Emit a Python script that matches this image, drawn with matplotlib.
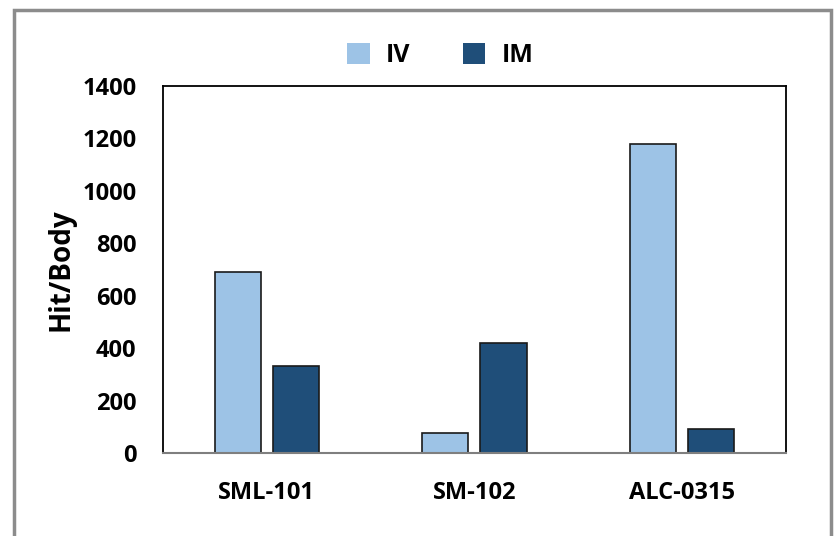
import matplotlib.pyplot as plt
import numpy as np
from matplotlib.patches import Rectangle, Patch

plt.rcParams['font.family'] = ['Open Sans', 'DejaVu Sans']

categories = ['SML-101', 'SM-102', 'ALC-0315']
iv_values = [690, 75, 1180]
im_values = [330, 420, 90]
y_ticks = [0, 200, 400, 600, 800, 1000, 1200, 1400]

iv_color = '#9DC3E6'
im_color = '#1F4E79'

fig = plt.figure(figsize=(8.34, 5.36), dpi=100)
ax = fig.add_axes([0.1954, 0.1549, 0.747, 0.6847])

x = np.arange(len(categories))
width = 0.222
ax.bar(x - 0.14, iv_values, width, color=iv_color, edgecolor='#1a1a1a', linewidth=1.2)
ax.bar(x + 0.14, im_values, width, color=im_color, edgecolor='#1a1a1a', linewidth=1.2)

ax.set_xlim(-0.5, 2.5)
ax.set_ylim(0, 1400)
ax.set_yticks(y_ticks)
ax.set_yticklabels([str(t) for t in y_ticks], fontsize=17, fontweight='bold')
ax.set_xticks(x)
ax.set_xticklabels(categories, fontsize=17, fontweight='bold')
ax.tick_params(axis='both', length=0)
ax.tick_params(axis='x', pad=20)
ax.tick_params(axis='y', pad=19)
ax.set_ylabel('Hit/Body', fontsize=20, fontweight='bold', labelpad=5)

for side in ['left', 'top', 'right']:
    ax.spines[side].set_color('#000000')
    ax.spines[side].set_linewidth(1.3)
ax.spines['bottom'].set_color('#7f7f7f')
ax.spines['bottom'].set_linewidth(1.5)

handles = [Patch(facecolor=iv_color, label='IV'), Patch(facecolor=im_color, label='IM')]
fig.legend(handles=handles, loc='center', bbox_to_anchor=(0.528, 0.896), ncol=2, frameon=False,
           prop={'weight': 'bold', 'size': 18}, handlelength=0.9, handleheight=0.9,
           columnspacing=2.1, handletextpad=0.65)

# outer frame of the chart area
frame = Rectangle((14 / 834, -0.05), (831 - 14) / 834, 1 - 10 / 536 + 0.05,
                  transform=fig.transFigure, fill=False, edgecolor='#8c8c8c', linewidth=2.5)
fig.patches.append(frame)

fig.savefig('out.png', dpi=100)
